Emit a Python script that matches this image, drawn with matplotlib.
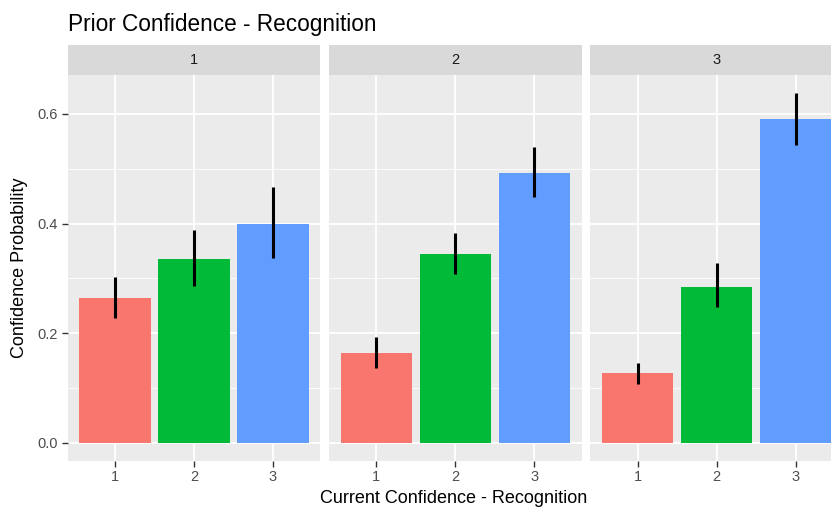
import matplotlib
matplotlib.use("Agg")
import matplotlib.pyplot as plt
import numpy as np

plt.rcParams['font.family'] = ['Liberation Sans', 'DejaVu Sans']

# Facets: prior confidence level; x: current confidence level
prior_levels = ["1", "2", "3"]
current_levels = ["1", "2", "3"]
probability = [
    [0.265, 0.336, 0.400],
    [0.164, 0.345, 0.492],
    [0.128, 0.284, 0.590],
]
ci_low = [
    [0.227, 0.286, 0.337],
    [0.137, 0.308, 0.448],
    [0.108, 0.248, 0.543],
]
ci_high = [
    [0.303, 0.388, 0.466],
    [0.193, 0.383, 0.540],
    [0.146, 0.328, 0.639],
]
bar_colors = ["#F8766D", "#00BA38", "#619CFF"]
y_ticks = [0.0, 0.2, 0.4, 0.6]
y_minor = [0.1, 0.3, 0.5]

W, H = 831, 509
fig = plt.figure(figsize=(W / 100, H / 100), dpi=100)
fig.patch.set_facecolor("white")

panel_left_px = [67.6, 329.0, 590.4]
panel_w_px = 252.8
panel_top_px = 75.0
panel_bot_px = 460.5
strip_top_px = 45.0

ymax_data = max(max(r) for r in ci_high)
pad = 0.05 * ymax_data
x = np.arange(1, len(current_levels) + 1)

for i, lvl in enumerate(prior_levels):
    ax = fig.add_axes([panel_left_px[i] / W, (H - panel_bot_px) / H,
                       panel_w_px / W, (panel_bot_px - panel_top_px) / H])
    ax.set_facecolor("#EBEBEB")
    ax.set_xlim(0.4, 3.6)
    ax.set_ylim(-pad, ymax_data + pad)
    for y in y_minor:
        ax.axhline(y, color="white", lw=0.6, zorder=0.5)
    for y in y_ticks:
        ax.axhline(y, color="white", lw=1.3, zorder=0.6)
    for xv in x:
        ax.axvline(xv, color="white", lw=1.3, zorder=0.6)
    ax.bar(x, probability[i], width=0.9, color=bar_colors, zorder=2)
    ax.vlines(x, ci_low[i], ci_high[i], color="black", lw=2.2, zorder=3)
    for s in ax.spines.values():
        s.set_visible(False)
    ax.set_xticks(x)
    ax.set_xticklabels(current_levels)
    ax.set_yticks(y_ticks)
    ax.tick_params(axis="both", length=4, width=1.0, color="#333333",
                   labelcolor="#4D4D4D", labelsize=10.5, pad=3)
    if i == 0:
        ax.set_yticklabels([f"{v:.1f}" for v in y_ticks])
    else:
        ax.tick_params(axis="y", left=False, labelleft=False)

    sax = fig.add_axes([panel_left_px[i] / W, (H - panel_top_px) / H,
                        panel_w_px / W, (panel_top_px - strip_top_px) / H])
    sax.set_facecolor("#D9D9D9")
    sax.set_xticks([])
    sax.set_yticks([])
    for s in sax.spines.values():
        s.set_visible(False)
    sax.text(0.5, 0.5, lvl, ha="center", va="center", fontsize=10.5,
             color="#1A1A1A", transform=sax.transAxes)

fig.text(68 / W, (H - 31) / H, "Prior Confidence - Recognition",
         fontsize=16.3, color="black", ha="left", va="baseline")
fig.text(454 / W, (H - 503) / H, "Current Confidence - Recognition",
         fontsize=13, color="black", ha="center", va="baseline")
fig.text(20 / W, (H - 268) / H, "Confidence Probability", rotation=90,
         fontsize=13, color="black", ha="center", va="center")

fig.savefig("out.png", dpi=100)
